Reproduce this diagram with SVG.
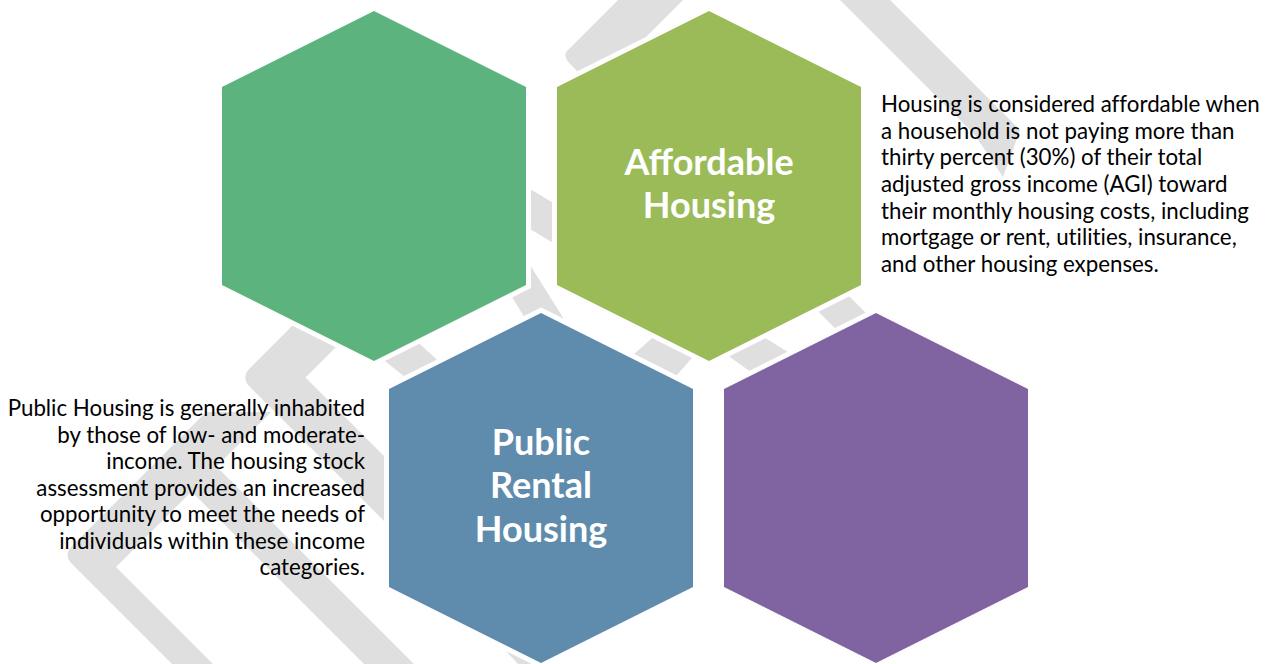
<svg xmlns="http://www.w3.org/2000/svg" width="1272" height="664" viewBox="0 0 1272 664">
  <defs>
    <polygon id="hex" points="0,-175 152,-99 152,99 0,175 -152,99 -152,-99"/>
    <style>
      .band { fill: #DFDFDF; }
      .hex { stroke: #FFFFFF; stroke-width: 10; paint-order: stroke; stroke-linejoin: miter; }
      .title { font-family: Lato, "Open Sans", sans-serif; font-weight: 700; font-size: 36px; fill: #FFFFFF; text-anchor: middle; }
      .body { font-family: Lato, "Open Sans", sans-serif; font-size: 22.3px; fill: #000000; font-variant-ligatures: none; }
    </style>
  </defs>
  <rect width="1272" height="664" fill="#FFFFFF"/>

  <!-- grey watermark chevrons behind the cluster -->
  <g id="watermark">
    <!-- top bend: arm from the top edge turning down-right under the upper right hexagon -->
    <path class="band" d="M618,0 L683,0 L618,65 L953,400 L907,400 L572,66 Q562,56 567,51 Z"/>
    <!-- right arm running down toward the description text -->
    <polygon class="band" points="840,0 890,0 1020,130 1003,177 975,135"/>
    <!-- short pieces visible in the gaps between hexagons -->
    <polygon class="band" points="520,183 570,213 570,253 520,223"/>
    <polygon class="band" points="485,193 582,348 556,368 466,223"/>
    <polygon class="band" points="375,353 409,334 447,369 415,385"/>
    <polygon class="band" points="660,331 700,349 668,385 624,363"/>
    <polygon class="band" points="720,350 757,333 796,357 758,377"/>
    <!-- small chevron: down from the green hexagon, turning toward the blue one -->
    <path class="band" d="M330,288 L395,288 L305.5,377.5 L420,492 L400,537 L250,387 Q240.5,377.5 250,368 Z"/>
    <!-- large chevron behind the public housing text -->
    <path class="band" d="M206,412 L271,412 L116,567 L218,669 L177,669 L72,564 Q63,555 72,546 Z"/>
    <!-- inner lower arm -->
    <polygon class="band" points="200,450 417,667 367,667 160,460"/>
    <polygon class="band" points="506,651 540,664 518,664"/>
  </g>

  <g id="node-green">
    <use href="#hex" class="hex" x="374" y="186" fill="#5DB37E"/>
  </g>

  <g id="node-affordable">
    <use href="#hex" class="hex" x="709" y="186" fill="#9BBB59"/>
    <text class="title" x="709" y="175">Affordable</text>
    <text class="title" x="709" y="218">Housing</text>
  </g>

  <g id="node-public-rental">
    <use href="#hex" class="hex" x="541" y="488" fill="#5F8CAD"/>
    <text class="title" x="541" y="455">Public</text>
    <text class="title" x="541" y="498">Rental</text>
    <text class="title" x="541" y="542">Housing</text>
  </g>

  <g id="node-purple">
    <use href="#hex" class="hex" x="876" y="488" fill="#8064A2"/>
  </g>

  <g id="note-affordable">
    <text class="body" x="881" y="112">Housing is considered affordable when</text>
    <text class="body" x="881" y="139">a household is not paying more than</text>
    <text class="body" x="881" y="165">thirty percent (30%) of their total</text>
    <text class="body" x="881" y="192">adjusted gross income (AGI) toward</text>
    <text class="body" x="881" y="219">their monthly housing costs, including</text>
    <text class="body" x="881" y="245">mortgage or rent, utilities, insurance,</text>
    <text class="body" x="881" y="272">and other housing expenses.</text>
  </g>

  <g id="note-public" text-anchor="end">
    <text class="body" x="365" y="416">Public Housing is generally inhabited</text>
    <text class="body" x="365" y="443">by those of low- and moderate-</text>
    <text class="body" x="365" y="469">income. The housing stock</text>
    <text class="body" x="365" y="496">assessment provides an increased</text>
    <text class="body" x="365" y="522">opportunity to meet the needs of</text>
    <text class="body" x="365" y="549">individuals within these income</text>
    <text class="body" x="365" y="575">categories.</text>
  </g>

  <g id="connectors"/>
</svg>
